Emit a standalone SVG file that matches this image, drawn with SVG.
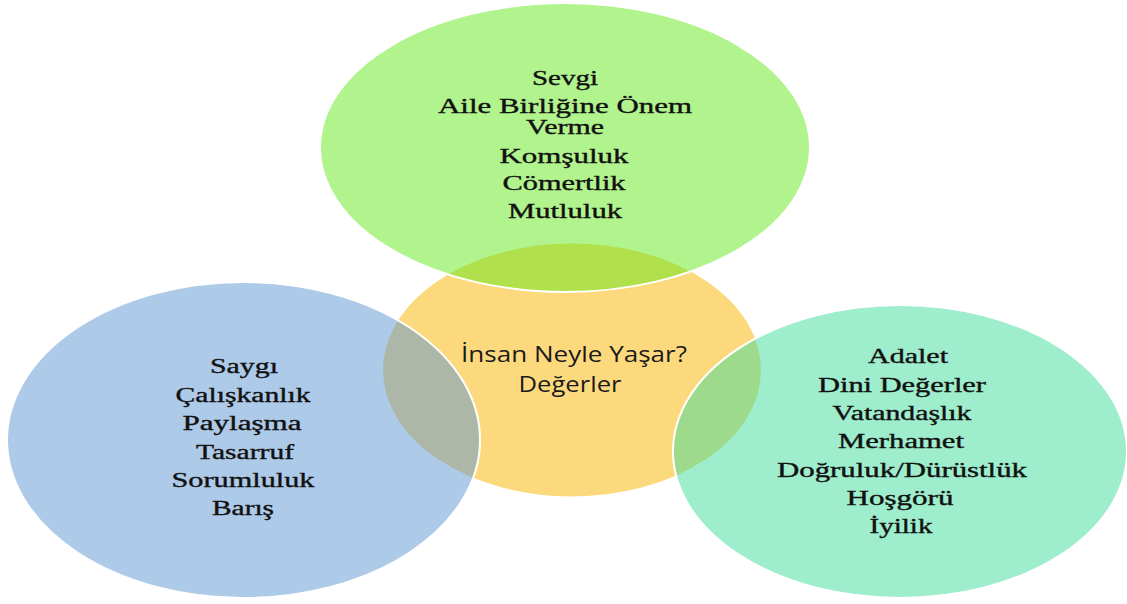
<svg xmlns="http://www.w3.org/2000/svg" width="1127" height="604" viewBox="0 0 1127 604">
<style>
.bg{fill:#ffffff}
.ov{stroke:#ffffff;stroke-width:2;fill-opacity:0.5}
.t{font-family:"Liberation Serif","Times New Roman",serif;font-size:20px;font-weight:normal;fill:#111111;stroke:#111111;stroke-width:0.35;text-anchor:middle}
.c{font-family:"Open Sans","Liberation Sans",Arial,sans-serif;font-size:21px;fill:#1a1a1a;text-anchor:middle}
</style>
<rect class="bg" x="0" y="0" width="1127" height="604"/>
<g id="center">
<ellipse cx="572" cy="370" rx="190" ry="127.5" fill="#FDD97E" stroke="#ffffff" stroke-width="2"/>
</g>
<g id="top">
<ellipse class="ov" cx="565" cy="147.5" rx="245" ry="144.5" fill="#64EA1C"/>
<text class="t" x="565" y="85" textLength="66" lengthAdjust="spacingAndGlyphs">Sevgi</text>
<text class="t" x="565" y="113" textLength="254" lengthAdjust="spacingAndGlyphs">Aile Birliğine Önem</text>
<text class="t" x="565" y="134" textLength="78" lengthAdjust="spacingAndGlyphs">Verme</text>
<text class="t" x="564" y="163" textLength="129" lengthAdjust="spacingAndGlyphs">Komşuluk</text>
<text class="t" x="564" y="190" textLength="123" lengthAdjust="spacingAndGlyphs">Cömertlik</text>
<text class="t" x="565" y="218" textLength="114" lengthAdjust="spacingAndGlyphs">Mutluluk</text>
</g>
<g id="left">
<ellipse class="ov" cx="243.5" cy="440" rx="236.5" ry="158" fill="#5B95D1"/>
<text class="t" x="244" y="373" textLength="68" lengthAdjust="spacingAndGlyphs">Saygı</text>
<text class="t" x="243" y="402" textLength="135" lengthAdjust="spacingAndGlyphs">Çalışkanlık</text>
<text class="t" x="242" y="430" textLength="119" lengthAdjust="spacingAndGlyphs">Paylaşma</text>
<text class="t" x="245" y="459" textLength="98" lengthAdjust="spacingAndGlyphs">Tasarruf</text>
<text class="t" x="243" y="487" textLength="143" lengthAdjust="spacingAndGlyphs">Sorumluluk</text>
<text class="t" x="243" y="515" textLength="62" lengthAdjust="spacingAndGlyphs">Barış</text>
</g>
<g id="right">
<ellipse class="ov" cx="900" cy="451.5" rx="227" ry="146.5" fill="#3DDB99"/>
<text class="t" x="908" y="363" textLength="80" lengthAdjust="spacingAndGlyphs">Adalet</text>
<text class="t" x="902" y="392" textLength="168" lengthAdjust="spacingAndGlyphs">Dini Değerler</text>
<text class="t" x="902" y="420" textLength="139" lengthAdjust="spacingAndGlyphs">Vatandaşlık</text>
<text class="t" x="901" y="448" textLength="126" lengthAdjust="spacingAndGlyphs">Merhamet</text>
<text class="t" x="902" y="477" textLength="250" lengthAdjust="spacingAndGlyphs">Doğruluk/Dürüstlük</text>
<text class="t" x="900" y="505" textLength="107" lengthAdjust="spacingAndGlyphs">Hoşgörü</text>
<text class="t" x="901" y="533" textLength="63" lengthAdjust="spacingAndGlyphs">İyilik</text>
</g>
<g id="center-label">
<text class="c" x="574" y="362" textLength="226" lengthAdjust="spacingAndGlyphs">İnsan Neyle Yaşar?</text>
<text class="c" x="570" y="392" textLength="103" lengthAdjust="spacingAndGlyphs">Değerler</text>
</g>
</svg>
